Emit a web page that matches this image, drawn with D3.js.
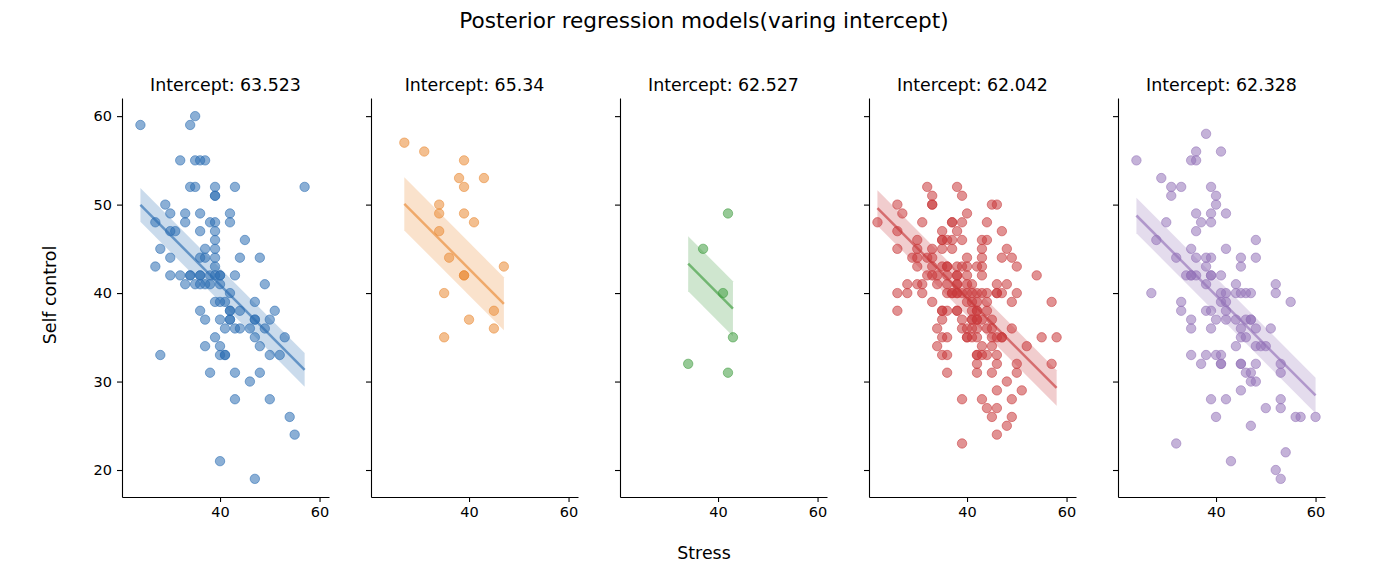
<!DOCTYPE html>
<html>
<head>
<meta charset="utf-8">
<script src="https://cdn.jsdelivr.net/npm/d3@7"></script>
<style>
    body { margin: 0; background: #fff; }
    svg text { font-family: "DejaVu Sans", sans-serif; fill: #000; }
</style>
</head>
<body>
<div id="chart"></div>
<script>
// intercept of each posterior model (panel titles) and the common slope
var intercepts = [63.523, 65.34, 62.527, 62.042, 62.328];
var slope = -0.565;
// half width of the credible band for each panel
var bandHalf = [1.9, 3.0, 3.1, 2.0, 2.0];

// [stress, self control] for every group
var group1 = [[24,59],[35,60],[34,59],[32,55],[35,55],[36,55],[37,55],
    [34,52],[35,52],[39,52],[43,52],[57,52],[39,51],[39,51],[29,50],
    [30,49],[33,49],[36,49],[42,49],[27,48],[33,48],[38,48],[39,48],[42,48],
    [30,47],[31,47],[36,47],[39,47],[45,46],[39,46],[28,45],[37,45],[39,45],
    [30,44],[36,44],[37,44],[39,44],[44,44],[48,44],[27,43],[39,43],
    [30,42],[32,42],[34,42],[34,42],[36,42],[36,42],[38,42],[39,42],[40,42],[40,42],[43,42],
    [33,41],[35,41],[36,41],[37,41],[38,41],[40,41],[49,41],[42,40],
    [39,39],[40,39],[41,39],[47,39],[36,38],[42,38],[42,38],[44,38],[51,38],
    [37,37],[40,37],[42,37],[42,37],[47,37],[47,37],[50,37],
    [41,36],[43,36],[44,36],[46,36],[49,36],[39,35],[47,35],[53,35],
    [37,34],[40,34],[48,34],[28,33],[40,33],[41,33],[41,33],[50,33],[52,33],
    [38,31],[43,31],[48,31],[46,30],[43,28],[50,28],[54,26],[55,24],[40,21],[47,19]];

var group2 = [[27,57],[31,56],[39,55],[38,53],[43,53],[39,52],[34,50],[34,49],
    [39,49],[41,48],[34,47],[36,44],[47,43],[39,42],[39,42],[35,40],[45,38],
    [40,37],[45,36],[35,35]];

var group3 = [[42,49],[37,45],[41,40],[43,35],[34,32],[42,31]];

var group4 = [[32,52],[38,52],[33,51],[39,51],[26,50],[33,50],[33,50],[45,50],[46,50],
    [27,49],[40,49],[22,48],[31,48],[37,48],[37,48],[39,48],[44,48],
    [26,47],[35,47],[38,47],[47,47],
    [30,46],[35,46],[35,46],[36,46],[37,46],[39,46],[43,46],[44,46],
    [26,45],[30,45],[33,45],[35,45],[37,45],[43,45],[48,45],
    [29,44],[30,44],[32,44],[33,44],[40,44],[43,44],[47,44],[49,44],
    [30,43],[33,43],[35,43],[36,43],[36,43],[38,43],[39,43],[40,43],[42,43],[43,43],[50,43],
    [32,42],[33,42],[34,42],[36,42],[38,42],[38,42],[40,42],[43,42],[54,42],
    [28,41],[30,41],[31,41],[34,41],[36,41],[38,41],[38,41],[40,41],[41,41],[46,41],[48,41],
    [26,40],[28,40],[31,40],[36,40],[37,40],[37,40],[38,40],[38,40],[39,40],[40,40],
    [41,40],[42,40],[43,40],[44,40],[46,40],[46,40],[47,40],[50,40],
    [33,39],[40,39],[41,39],[42,39],[44,39],[49,39],[57,39],
    [26,38],[35,38],[35,38],[36,38],[38,38],[38,38],[41,38],[42,38],[42,38],[44,38],
    [35,37],[39,37],[41,37],[41,37],[42,37],[42,37],[43,37],[45,37],
    [34,36],[39,36],[40,36],[41,36],[42,36],[44,36],[45,36],[49,36],
    [35,35],[36,35],[40,35],[40,35],[41,35],[42,35],[45,35],[46,35],[47,35],[47,35],[55,35],[58,35],
    [34,34],[43,34],[45,34],[52,34],
    [35,33],[36,33],[42,33],[42,33],[43,33],[44,33],[46,33],
    [42,32],[46,32],[50,32],[57,32],[36,31],[42,31],[45,31],[50,31],
    [48,30],[46,29],[51,29],[39,28],[43,28],[49,28],[44,27],[46,27],
    [45,26],[49,26],[48,25],[46,24],[39,23]];

var group5 = [[38,58],[36,56],[41,56],[24,55],[35,55],[36,55],[29,53],
    [31,52],[33,52],[39,52],[31,51],[40,51],[40,50],[36,49],[39,49],[42,49],
    [30,48],[37,48],[39,48],[36,47],[28,46],[48,46],[35,45],[42,45],
    [32,44],[36,44],[38,44],[39,44],[45,44],[48,44],[38,43],[45,43],
    [34,42],[35,42],[35,42],[36,42],[39,42],[39,42],[41,42],[38,41],[44,41],[52,41],
    [27,40],[41,40],[42,40],[44,40],[45,40],[46,40],[47,40],[52,40],
    [33,39],[41,39],[42,39],[55,39],[33,38],[38,38],[39,38],[42,38],
    [35,37],[40,37],[42,37],[44,37],[46,37],[47,37],[47,37],
    [35,36],[39,36],[45,36],[48,36],[51,36],[45,35],[46,35],
    [44,34],[48,34],[49,34],[50,34],[35,33],[38,33],[40,33],[41,33],
    [37,32],[41,32],[41,32],[45,32],[45,32],[48,32],[53,32],[46,31],[47,31],[53,31],
    [47,30],[48,30],[45,29],[39,28],[42,28],[53,28],[50,27],[53,27],
    [40,26],[56,26],[57,26],[60,26],[47,25],[32,23],[54,22],[43,21],[52,20],[53,19]];

var groups = [group1, group2, group3, group4, group5];
var colors = ['#2c6eb2', '#ea8a35', '#3f9c3f', '#c8393a', '#9372b8'];
var xTicks = [40, 60];
var yTicks = [20, 30, 40, 50, 60];

var width = 1375, height = 571;
var panelLeft = [122, 371, 620, 869, 1118];
var panelWidth = 207, plotTop = 98, plotBottom = 497;

var svg = d3.select('#chart').append('svg')
    .attr('width', width)
    .attr('height', height);

// figure title and shared axis labels
svg.append('text')
    .attr('x', 704).attr('y', 28)
    .attr('text-anchor', 'middle')
    .style('font-size', '21.6px')
    .text('Posterior regression models(varing intercept)');

svg.append('text')
    .attr('x', 704).attr('y', 559)
    .attr('text-anchor', 'middle')
    .style('font-size', '17.4px')
    .text('Stress');

svg.append('text')
    .attr('transform', 'translate(56,295) rotate(-90)')
    .attr('text-anchor', 'middle')
    .style('font-size', '17.4px')
    .text('Self control');

var x = d3.scaleLinear().domain([20.3, 61.9]).range([0, panelWidth]);
var y = d3.scaleLinear().domain([16.95, 62.05]).range([plotBottom, plotTop]);

groups.forEach(function(data, i) {
    var g = svg.append('g').attr('transform', 'translate(' + panelLeft[i] + ',0)');
    var color = colors[i];

    // credible band and regression line across the range of the group
    var ext = d3.extent(data, function(d) { return d[0]; });
    var fit = function(v) { return intercepts[i] + slope * v; };

    var area = d3.area()
        .x(function(v) { return x(v); })
        .y0(function(v) { return y(fit(v) - bandHalf[i]); })
        .y1(function(v) { return y(fit(v) + bandHalf[i]); });

    g.append('path')
        .datum(ext)
        .attr('d', area)
        .attr('fill', color)
        .attr('fill-opacity', 0.25);

    g.append('path')
        .datum(ext)
        .attr('d', d3.line().x(function(v) { return x(v); }).y(function(v) { return y(fit(v)); }))
        .attr('stroke', color)
        .attr('stroke-width', 2.5)
        .attr('stroke-opacity', 0.65)
        .attr('fill', 'none');

    // scatter of the raw observations
    g.selectAll('circle').data(data)
        .enter()
        .append('circle')
        .attr('cx', function(d) { return x(d[0]); })
        .attr('cy', function(d) { return y(d[1]); })
        .attr('r', 4.7)
        .attr('fill', color)
        .attr('fill-opacity', 0.55)
        .attr('stroke', color)
        .attr('stroke-opacity', 0.55)
        .attr('stroke-width', 1);

    // axes: only left and bottom spines
    var yAxis = d3.axisLeft(y).tickValues(yTicks).tickSize(5).tickSizeOuter(0).tickPadding(5);
    if (i > 0) { yAxis.tickFormat(''); }
    g.append('g').attr('class', 'axis').call(yAxis);

    g.append('g').attr('class', 'axis')
        .attr('transform', 'translate(0,' + plotBottom + ')')
        .call(d3.axisBottom(x).tickValues(xTicks).tickSize(5).tickSizeOuter(0).tickPadding(5));

    g.append('text')
        .attr('x', panelWidth / 2).attr('y', 91)
        .attr('text-anchor', 'middle')
        .style('font-size', '17.4px')
        .text('Intercept: ' + intercepts[i]);
});

d3.selectAll('.axis text').style('font-size', '14.5px').style('font-family', '"DejaVu Sans", sans-serif');
d3.selectAll('.axis path, .axis line').attr('stroke', '#000').attr('stroke-width', 1.1);
</script>
</body>
</html>
